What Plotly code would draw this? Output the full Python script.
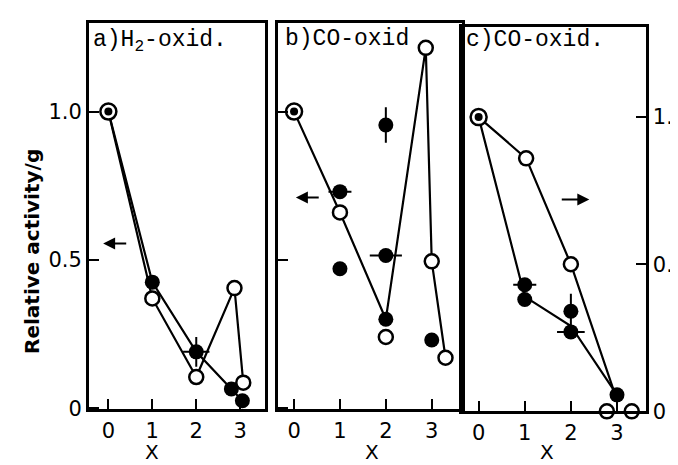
import plotly.graph_objects as go

W, H = 678, 465

# ---------------- data ----------------
# panel a) H2-oxidation
a_open_x = [0, 1, 2, 2.87, 3.07]
a_open_y = [1.0, 0.37, 0.105, 0.405, 0.086]
a_fill_x = [0, 1, 2, 2.8, 3.05]
a_fill_y = [1.0, 0.425, 0.19, 0.065, 0.025]
a_fill_ex = [0, 0, 0.3, 0, 0]
a_fill_ey = [0, 0, 0.05, 0, 0]

# panel b) CO-oxidation (left scale)
b_open_x = [0, 1, 2, 2.87, 3.0, 3.3]
b_open_y = [1.0, 0.66, 0.24, 1.215, 0.495, 0.17]
b_line_x = [0, 1, 2, 2.87, 3.0, 3.3]
b_line_y = [1.0, 0.66, 0.30, 1.215, 0.495, 0.17]
b_fill_x = [1, 1, 2, 2, 2, 3]
b_fill_y = [0.73, 0.47, 0.955, 0.515, 0.30, 0.23]
b_fill_ex = [0.25, 0, 0, 0.35, 0, 0]
b_fill_ey = [0, 0, 0.06, 0, 0, 0]

# panel c) CO-oxidation (right scale)
c_open_x = [0, 1.03, 2, 2.78, 3.02, 3.32]
c_open_y = [1.0, 0.86, 0.50, 0.0, -0.005, 0.0]
c_oline_x = [0, 1.03, 2, 2.93]
c_oline_y = [1.0, 0.86, 0.50, 0.07]
c_fill_x = [0, 1, 1, 2, 2, 3]
c_fill_y = [1.0, 0.43, 0.38, 0.34, 0.27, 0.056]
c_fline_x = [0, 1, 2, 3]
c_fline_y = [1.0, 0.39, 0.29, 0.056]
c_fill_ex = [0, 0.25, 0, 0, 0.3, 0]
c_fill_ey = [0, 0, 0, 0.06, 0, 0]

x_ticks = [0, 1, 2, 3]
x_ticktext = ["0", "1", "2", "3"]
y_ticks = [0, 0.5, 1.0]
y_ticktext = ["0", "0.5", "1.0"]

# ---------------- figure ----------------
fig = go.Figure()

def px_x(p):
    return p / W

def px_y(p):
    return 1 - p / H

panels = [
    # (xaxis id, yaxis id, left px, right px, top px, bottom px, xrange, yrange)
    ("x", "y", 83, 263, 15, 412, [-0.44, 3.56], [-0.004, 1.30]),
    ("x2", "y2", 277, 465, 15, 412, [-0.34, 3.66], [-0.004, 1.30]),
    ("x3", "y3", 465, 653, 19, 414, [-0.36, 3.62], [0.0, 1.308]),
]

BLACK = "black"
MS = 14

def add_open(x, y, xa, ya):
    fig.add_trace(go.Scatter(x=x, y=y, xaxis=xa, yaxis=ya, mode="markers",
                             marker=dict(symbol="circle", size=MS, color="white",
                                         line=dict(color=BLACK, width=2.5)),
                             cliponaxis=False, showlegend=False))

def add_fill(x, y, xa, ya, ex=None, ey=None):
    fig.add_trace(go.Scatter(x=x, y=y, xaxis=xa, yaxis=ya, mode="markers",
                             marker=dict(symbol="circle", size=MS + 1, color=BLACK),
                             error_x=dict(type="data", array=ex, visible=ex is not None,
                                          color=BLACK, thickness=2, width=0),
                             error_y=dict(type="data", array=ey, visible=ey is not None,
                                          color=BLACK, thickness=2, width=0),
                             cliponaxis=False, showlegend=False))

def add_line(x, y, xa, ya):
    fig.add_trace(go.Scatter(x=x, y=y, xaxis=xa, yaxis=ya, mode="lines",
                             line=dict(color=BLACK, width=2.2),
                             cliponaxis=False, showlegend=False))

def add_origin(xa, ya):
    fig.add_trace(go.Scatter(x=[0], y=[1.0], xaxis=xa, yaxis=ya, mode="markers",
                             marker=dict(symbol="circle", size=MS + 2, color="white",
                                         line=dict(color=BLACK, width=2.5)),
                             cliponaxis=False, showlegend=False))
    fig.add_trace(go.Scatter(x=[0], y=[1.0], xaxis=xa, yaxis=ya, mode="markers",
                             marker=dict(symbol="circle", size=8, color=BLACK),
                             cliponaxis=False, showlegend=False))

# panel a
add_line(a_open_x, a_open_y, "x", "y")
add_line(a_fill_x, a_fill_y, "x", "y")
add_open(a_open_x[1:], a_open_y[1:], "x", "y")
add_fill(a_fill_x[1:], a_fill_y[1:], "x", "y", a_fill_ex[1:], a_fill_ey[1:])
add_origin("x", "y")

# panel b
add_line(b_line_x, b_line_y, "x2", "y2")
add_open(b_open_x[1:], b_open_y[1:], "x2", "y2")
add_fill(b_fill_x, b_fill_y, "x2", "y2", b_fill_ex, b_fill_ey)
add_origin("x2", "y2")

# panel c
add_line(c_oline_x, c_oline_y, "x3", "y3")
add_line(c_fline_x, c_fline_y, "x3", "y3")
add_open(c_open_x[1:], c_open_y[1:], "x3", "y3")
add_fill(c_fill_x[1:], c_fill_y[1:], "x3", "y3", c_fill_ex[1:], c_fill_ey[1:])
add_origin("x3", "y3")

TICKFONT = dict(family="DejaVu Sans, Liberation Sans, Arial", size=21, color=BLACK)

layout = dict(width=W, height=H, margin=dict(l=0, r=0, t=0, b=0),
              paper_bgcolor="white", plot_bgcolor="white", showlegend=False)

for i, (xa, ya, l, r, t, b, xr, yr) in enumerate(panels):
    xkey = "xaxis" if xa == "x" else "xaxis" + xa[1:]
    ykey = "yaxis" if ya == "y" else "yaxis" + ya[1:]
    layout[xkey] = dict(domain=[px_x(l), px_x(r)], range=xr, anchor=ya,
                        showgrid=False, zeroline=False, showline=True, mirror=True,
                        linecolor=BLACK, linewidth=3, ticks="inside", ticklen=10,
                        tickwidth=2, tickcolor=BLACK, tickvals=x_ticks,
                        ticktext=x_ticktext, tickfont=TICKFONT, fixedrange=True)
    yd = dict(domain=[px_y(b), px_y(t)], range=yr, anchor=xa,
              showgrid=False, zeroline=False, showline=True, mirror=True,
              linecolor=BLACK, linewidth=3, ticks="inside", ticklen=10,
              tickwidth=2, tickcolor=BLACK, tickvals=y_ticks,
              ticktext=y_ticktext, tickfont=TICKFONT, fixedrange=True)
    if i == 1:
        yd["showticklabels"] = False
    if i == 2:
        yd["side"] = "right"
    layout[ykey] = yd

fig.update_layout(**layout)

TITLEFONT = dict(family="Liberation Mono, Courier New, monospace", size=23, color=BLACK)
ann = [
    dict(text="a)H<sub>2</sub>-oxid.", x=px_x(85), y=px_y(34), xanchor="left", yanchor="middle"),
    dict(text="b)CO-oxid", x=px_x(282), y=px_y(32), xanchor="left", yanchor="middle"),
    dict(text="c)CO-oxid.", x=px_x(467), y=px_y(33), xanchor="left", yanchor="middle"),
]
for a in ann:
    fig.add_annotation(xref="paper", yref="paper", showarrow=False, font=TITLEFONT, **a)

XFONT = dict(family="DejaVu Sans, Liberation Sans, Arial", size=20, color=BLACK)
for cx in [147, 373, 552]:
    fig.add_annotation(xref="paper", yref="paper", x=px_x(cx), y=px_y(456), text="X",
                       showarrow=False, font=XFONT, xanchor="center", yanchor="middle")

fig.add_annotation(xref="paper", yref="paper", x=px_x(24), y=px_y(250),
                   text="<b>Relative activity/g</b>", textangle=-90, showarrow=False,
                   font=dict(family="DejaVu Sans, Liberation Sans, Arial", size=20, color=BLACK),
                   xanchor="center", yanchor="middle")

# direction arrows
arrows = [
    ("x", "y", -0.12, 0.555, 0.44, 0.555),
    ("x2", "y2", 0.04, 0.71, 0.57, 0.71),
    ("x3", "y3", 2.4, 0.72, 1.77, 0.72),
]
for xa, ya, x1, y1, x0, y0 in arrows:
    fig.add_annotation(xref=xa, yref=ya, x=x1, y=y1, ax=x0, ay=y0,
                       axref=xa, ayref=ya, text="", showarrow=True,
                       arrowhead=2, arrowsize=1.2, arrowwidth=2, arrowcolor=BLACK)

fig.write_html("out.html")
